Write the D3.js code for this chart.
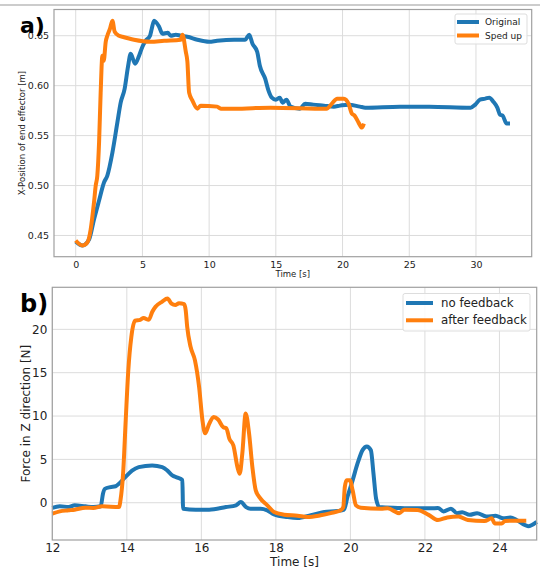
<!DOCTYPE html>
<html>
<head>
<meta charset="utf-8">
<script src="https://cdn.jsdelivr.net/npm/d3@7"></script>
<style>
  body { margin: 0; background: #fff; }
  svg { font-family: "DejaVu Sans", sans-serif; }
</style>
</head>
<body>
<div id="chart"></div>
<script>
// panel a) : X-position of end effector
var tOriginal = [0, 0.5, 1.0, 1.37, 1.75, 2.12, 2.37, 2.75, 3.12, 3.37, 3.67, 3.92, 4.12, 4.45, 4.75, 5.0, 5.25, 5.57, 5.7, 5.87, 6.25, 6.5, 6.9, 7.12, 7.5, 7.87, 8.37, 9.12, 10.0, 10.6, 11.87, 12.7, 13.0, 13.25, 13.6, 13.8, 14.2, 14.45, 14.7, 15.0, 15.3, 15.5, 15.8, 16.1, 16.8, 17.2, 17.8, 18.6, 19.35, 19.8, 20.45, 21.3, 21.7, 24.3, 26.5, 29.6, 29.95, 30.3, 30.7, 31.0, 31.3, 31.6, 31.8, 32.0, 32.3, 32.55];
var xOriginal = [0.444, 0.440, 0.446, 0.466, 0.485, 0.503, 0.510, 0.533, 0.563, 0.583, 0.597, 0.619, 0.632, 0.622, 0.630, 0.639, 0.645, 0.650, 0.657, 0.665, 0.659, 0.652, 0.653, 0.650, 0.651, 0.650, 0.649, 0.646, 0.644, 0.645, 0.646, 0.646, 0.651, 0.642, 0.634, 0.620, 0.607, 0.595, 0.588, 0.586, 0.588, 0.583, 0.586, 0.579, 0.577, 0.582, 0.581, 0.580, 0.579, 0.580, 0.581, 0.579, 0.578, 0.579, 0.579, 0.578, 0.581, 0.586, 0.587, 0.588, 0.584, 0.578, 0.571, 0.570, 0.562, 0.562];
var tSpedUp = [0, 0.5, 0.87, 1.12, 1.37, 1.5, 1.62, 1.75, 1.87, 2.0, 2.1, 2.25, 2.37, 2.57, 2.75, 2.92, 3.25, 3.5, 4.37, 5.6, 6.62, 7.87, 8.0, 8.25, 8.37, 8.5, 8.75, 9.12, 9.37, 10.6, 10.87, 11.9, 14.6, 18.8, 19.2, 19.6, 20.1, 20.45, 20.7, 20.9, 21.2, 21.45, 21.6];
var xSpedUp = [0.445, 0.440, 0.443, 0.456, 0.483, 0.500, 0.510, 0.543, 0.593, 0.630, 0.625, 0.644, 0.650, 0.657, 0.665, 0.654, 0.650, 0.649, 0.646, 0.644, 0.645, 0.646, 0.651, 0.634, 0.624, 0.593, 0.585, 0.577, 0.580, 0.579, 0.577, 0.577, 0.578, 0.577, 0.582, 0.587, 0.587, 0.582, 0.572, 0.570, 0.563, 0.558, 0.562];
var ticksA = [0, 5, 10, 15, 20, 25, 30];
var ticksAy = [0.45, 0.50, 0.55, 0.60, 0.65];

// panel b) : force in Z direction
var tNoFeedback = [12.0, 12.2, 12.44, 12.6, 12.89, 13.1, 13.3, 13.36, 13.41, 13.56, 13.7, 13.79, 13.96, 14.14, 14.32, 14.68, 14.95, 15.09, 15.22, 15.36, 15.49, 15.51, 15.85, 16.21, 16.66, 16.93, 17.06, 17.2, 17.32, 17.59, 17.77, 17.95, 18.31, 18.58, 18.94, 19.3, 19.65, 19.83, 19.92, 20.06, 20.19, 20.33, 20.44, 20.55, 20.62, 20.69, 20.78, 21.27, 21.7, 22.16, 22.35, 22.5, 22.7, 22.86, 23.0, 23.2, 23.4, 23.65, 23.9, 24.1, 24.3, 24.46, 24.77, 25.0];
var fNoFeedback = [-0.6, -0.4, -0.5, -0.3, -0.42, -0.5, -0.4, 1.04, 1.6, 1.8, 1.9, 2.2, 2.96, 3.7, 4.1, 4.3, 4.1, 3.7, 3.16, 2.9, 2.6, -0.69, -0.8, -0.8, -0.5, -0.3, 0.08, -0.5, -0.69, -0.69, -0.88, -1.34, -1.65, -1.76, -1.45, -1.07, -0.96, -0.8, 0.66, 2.58, 4.5, 6.1, 6.5, 6.05, 3.35, 0.46, -0.5, -0.6, -0.65, -0.65, -0.6, -1.0, -0.7, -1.2, -1.1, -1.4, -1.2, -1.6, -1.5, -1.8, -1.7, -2.0, -2.7, -2.2];
var tFeedback = [12.0, 12.2, 12.44, 12.6, 12.89, 13.1, 13.34, 13.79, 13.83, 13.9, 13.97, 14.04, 14.12, 14.22, 14.36, 14.45, 14.59, 14.68, 14.77, 14.95, 15.09, 15.2, 15.3, 15.4, 15.54, 15.58, 15.62, 15.71, 15.83, 15.94, 16.03, 16.1, 16.21, 16.33, 16.45, 16.59, 16.67, 16.75, 16.86, 16.97, 17.03, 17.1, 17.19, 17.28, 17.37, 17.46, 17.59, 17.77, 17.95, 18.22, 18.58, 18.85, 19.2, 19.47, 19.74, 19.81, 19.85, 19.9, 19.99, 20.06, 20.15, 20.28, 20.82, 21.0, 21.31, 21.45, 21.8, 22.1, 22.35, 22.6, 22.9, 23.15, 23.6, 23.79, 23.88, 24.06, 24.15, 24.72];
var fFeedback = [-1.27, -1.0, -0.88, -0.8, -0.57, -0.6, -0.42, -0.5, 0.3, 3.35, 9.5, 15.3, 19.1, 21.0, 21.1, 21.3, 21.1, 22.0, 22.6, 23.2, 23.55, 22.96, 22.8, 23.0, 22.9, 22.2, 20.3, 18.0, 16.4, 13.35, 9.5, 8.0, 9.1, 9.9, 9.6, 8.7, 8.6, 7.4, 6.6, 4.1, 3.35, 5.7, 10.3, 8.0, 4.1, 1.43, 0.46, -0.3, -1.07, -1.38, -1.5, -1.65, -1.45, -1.2, -0.88, -0.5, 1.8, 2.58, 2.58, 1.43, -0.3, -0.57, -0.69, -0.65, -1.2, -0.8, -0.84, -1.4, -2.0, -1.7, -1.6, -2.0, -2.1, -1.8, -2.4, -2.4, -2.1, -2.07];
var ticksB = [12, 14, 16, 18, 20, 22, 24];
var ticksBy = [0, 5, 10, 15, 20];

var W = 542, H = 569;
var blue = "#1f77b4", orange = "#ff7f0e";

var svg = d3.select("#chart").append("svg")
    .attr("width", W)
    .attr("height", H);

// thin rule at the very top
svg.append("line")
    .attr("x1", 0).attr("x2", 540)
    .attr("y1", 5).attr("y2", 5)
    .attr("stroke", "#bbb").attr("stroke-width", 1.5);

function zip(ts, vs) { return ts.map((t, i) => [t, vs[i]]); }

function drawPanel(opt) {
  var x = d3.scaleLinear().domain(opt.xDomain).range([opt.left, opt.right]);
  var y = d3.scaleLinear().domain(opt.yDomain).range([opt.bottom, opt.top]);
  var g = svg.append("g");

  // grid
  g.append("g").selectAll("line").data(opt.xTicks).enter().append("line")
      .attr("x1", d => x(d)).attr("x2", d => x(d))
      .attr("y1", opt.top).attr("y2", opt.bottom)
      .attr("stroke", "#dcdcdc").attr("stroke-width", 1);
  g.append("g").selectAll("line").data(opt.yTicks).enter().append("line")
      .attr("x1", opt.left).attr("x2", opt.right)
      .attr("y1", d => y(d)).attr("y2", d => y(d))
      .attr("stroke", "#dcdcdc").attr("stroke-width", 1);

  // lines
  var line = d3.line().x(d => x(d[0])).y(d => y(d[1])).curve(d3.curveMonotoneX);
  g.append("g").selectAll("path").data(opt.series).enter().append("path")
      .attr("d", d => line(d.pts))
      .attr("fill", "none")
      .attr("stroke", d => d.color)
      .attr("stroke-width", opt.lw)
      .attr("stroke-linejoin", "round");

  // frame
  g.append("rect")
      .attr("x", opt.left).attr("y", opt.top)
      .attr("width", opt.right - opt.left).attr("height", opt.bottom - opt.top)
      .attr("fill", "none").attr("stroke", "#a0a0a0").attr("stroke-width", 1.2);

  // axes (no tick marks, labels only)
  var xa = g.append("g").attr("transform", "translate(0," + opt.bottom + ")")
      .call(d3.axisBottom(x).tickValues(opt.xTicks).tickFormat(opt.xFmt).tickSize(0).tickPadding(opt.xpad));
  var ya = g.append("g").attr("transform", "translate(" + opt.left + ",0)")
      .call(d3.axisLeft(y).tickValues(opt.yTicks).tickFormat(opt.yFmt).tickSize(0).tickPadding(5));
  [xa, ya].forEach(a => {
    a.select(".domain").remove();
    a.selectAll("text").attr("font-size", opt.fs).attr("fill", "#222")
        .attr("font-family", "DejaVu Sans, sans-serif");
  });

  g.append("text")
      .attr("x", (opt.left + opt.right) / 2).attr("y", opt.xLabelY)
      .attr("text-anchor", "middle").attr("font-size", opt.lfs).attr("fill", "#222")
      .text(opt.xLabel);
  g.append("text")
      .attr("transform", "translate(" + opt.yLabelX + "," + (opt.top + opt.bottom) / 2 + ") rotate(-90)")
      .attr("text-anchor", "middle").attr("font-size", opt.lfs).attr("fill", "#222")
      .text(opt.yLabel);

  // panel letter
  g.append("text")
      .attr("x", opt.letterX).attr("y", opt.letterY)
      .attr("font-size", opt.letterSize).attr("font-weight", "bold")
      .attr("font-family", "DejaVu Sans, sans-serif")
      .text(opt.letter);

  // legend
  var L = opt.legend;
  g.append("rect")
      .attr("x", L.x).attr("y", L.y).attr("width", L.w).attr("height", L.h)
      .attr("rx", 2).attr("fill", "#fff").attr("fill-opacity", 0.85)
      .attr("stroke", "#dddddd");
  var items = g.append("g").selectAll("g").data(opt.series).enter().append("g")
      .attr("transform", (d, i) => "translate(0," + (L.y0 + i * L.dy) + ")");
  items.append("line")
      .attr("x1", L.lx).attr("x2", L.lx + L.len)
      .attr("stroke", d => d.color).attr("stroke-width", opt.lw);
  items.append("text")
      .attr("x", L.tx).attr("dy", "0.35em")
      .attr("font-size", L.fs).attr("fill", "#222")
      .text(d => d.name);
}

// padded extents like matplotlib's default 5% margin
function padded(arrs) {
  var e = d3.extent([].concat.apply([], arrs));
  var p = (e[1] - e[0]) * 0.05;
  return [e[0] - p, e[1] + p];
}

drawPanel({
  left: 54, right: 531.7, top: 9.5, bottom: 256.7,
  xDomain: padded([tOriginal, tSpedUp]),
  yDomain: padded([xOriginal, xSpedUp]),
  xTicks: ticksA, yTicks: ticksAy,
  xFmt: d3.format("d"), yFmt: d3.format(".2f"),
  fs: 9.5, lfs: 8.5, xpad: 5, lw: 4,
  xLabel: "Time [s]", xLabelY: 277,
  yLabel: "X-Position of end effector [m]", yLabelX: 25,
  letter: "a)", letterX: 20, letterY: 33, letterSize: 22,
  series: [
    {name: "Original", color: blue, pts: zip(tOriginal, xOriginal)},
    {name: "Sped up", color: orange, pts: zip(tSpedUp, xSpedUp)}
  ],
  legend: {x: 455, y: 14, w: 72, h: 30, y0: 22, dy: 13.5, lx: 457, len: 22, tx: 485, fs: 9}
});

drawPanel({
  left: 52.3, right: 536.7, top: 287.3, bottom: 540,
  xDomain: [12, 25],
  yDomain: [-4.3, 24.85],
  xTicks: ticksB, yTicks: ticksBy,
  xFmt: d3.format("d"), yFmt: d3.format("d"),
  fs: 12, lfs: 12, xpad: 3, lw: 4,
  xLabel: "Time [s]", xLabelY: 566,
  yLabel: "Force in Z direction [N]", yLabelX: 30,
  letter: "b)", letterX: 20, letterY: 312, letterSize: 24,
  series: [
    {name: "no feedback", color: blue, pts: zip(tNoFeedback, fNoFeedback)},
    {name: "after feedback", color: orange, pts: zip(tFeedback, fFeedback)}
  ],
  legend: {x: 403, y: 293.5, w: 127, h: 37.5, y0: 303, dy: 17.3, lx: 406, len: 27, tx: 441, fs: 11.8}
});
</script>
</body>
</html>
